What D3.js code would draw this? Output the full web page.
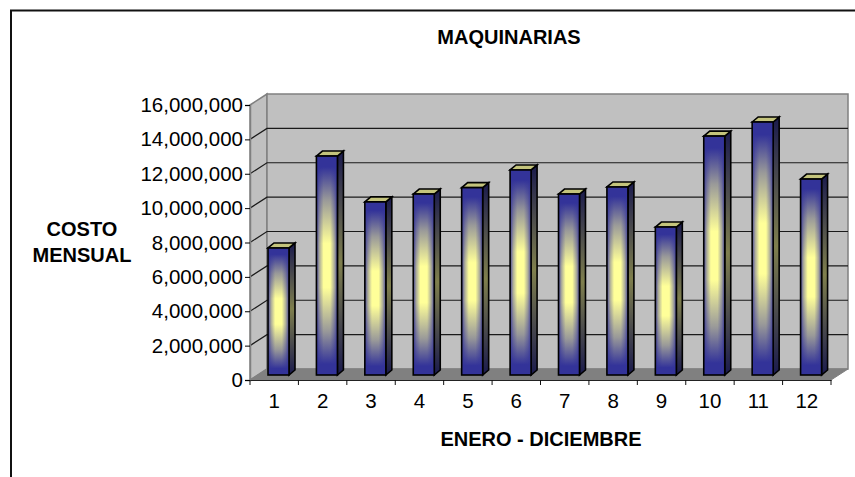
<!DOCTYPE html>
<html><head><meta charset="utf-8">
<script src="https://cdn.jsdelivr.net/npm/d3@7"></script>
<style>html,body{margin:0;padding:0;background:#fff}svg{display:block;font-family:"Liberation Sans",Arial,sans-serif}</style>
</head><body><svg id="c" width="855" height="477"></svg>
<script>
const months=[1,2,3,4,5,6,7,8,9,10,11,12];
const costs=[7390000,12740000,10070000,10530000,10900000,11930000,10530000,10940000,8610000,13900000,14720000,11400000];
const yTicks=[0,2000000,4000000,6000000,8000000,10000000,12000000,14000000,16000000];
const titleText="MAQUINARIAS", xTitle="ENERO - DICIEMBRE", yTitle=["COSTO","MENSUAL"];

const svg=d3.select("#c");
const L=250,R=831,T=105,B=380,DX=17,DY=11;
const x=d3.scaleBand().domain(months).range([L,R]);
const y=d3.scaleLinear().domain([0,16000000]).range([B,T]);
const defs=svg.append("defs");
const grad=(id,x2,y2,st)=>{const g=defs.append("linearGradient").attr("id",id).attr("x1",0).attr("y1",0).attr("x2",x2).attr("y2",y2);
  st.forEach(s=>g.append("stop").attr("offset",s[0]).attr("stop-color",s[1]).attr("stop-opacity",s[2]==null?1:s[2]));};
const BLUE="#333399",YEL="#ffff99";
grad("v",0,1,[[0,BLUE],[.05,BLUE],[.2,"#999999"],[.4,YEL],[.6,YEL],[.8,"#999999"],[.95,BLUE],[1,BLUE]]);
grad("edge",1,0,[[0,BLUE,.9],[.15,BLUE,.4],[.34,BLUE,0],[.66,BLUE,0],[.85,BLUE,.4],[1,BLUE,.9]]);
grad("side",0,1,[[0,"#1a1a4d"],[.5,"#7f7f4d"],[1,"#1a1a4d"]]);

// frame
svg.append("path").attr("d","M11,477V10.5H855").attr("fill","none").attr("stroke","#111").attr("stroke-width",2);

// walls
const wall="#808080";
svg.append("path").attr("d",`M${L},${T}L${L+DX},${T-DY}V${B-DY}L${L},${B}Z`).attr("fill","#c0c0c0").attr("stroke",wall).attr("stroke-width",1.5);
svg.append("path").attr("d",`M${L+DX},${T-DY}H${R+DX}V${B-DY}H${L+DX}Z`).attr("fill","#c0c0c0").attr("stroke",wall).attr("stroke-width",1.5);
svg.append("path").attr("d",`M${L},${B}L${L+DX},${B-DY}H${R+DX}L${R},${B}Z`).attr("fill","#808080").attr("stroke",wall);

// gridlines
svg.append("g").selectAll("path").data(yTicks.filter(d=>d>0&&d<16000000)).join("path")
  .attr("d",d=>`M${L},${y(d)}L${L+DX},${y(d)-DY}H${R+DX}`).attr("fill","none").attr("stroke","#1a1a1a").attr("stroke-width",1.2);

// axes
const fs="20.5px";
const ay=svg.append("g").attr("transform",`translate(${L},0)`).call(d3.axisLeft(y).tickValues(yTicks).tickFormat(d3.format(",")).tickSize(5).tickPadding(2));
ay.select(".domain").attr("stroke",wall).attr("stroke-width",1.5);
ay.selectAll("text").attr("font-size",fs).attr("font-family",null).attr("fill","#000");
const ax=svg.append("g").attr("transform",`translate(0,${B})`).call(d3.axisBottom(x).tickSizeOuter(0).tickSize(0).tickPadding(13));
ax.select(".domain").attr("stroke","#222").attr("stroke-width",1.2);
ax.selectAll("text").attr("font-size",fs).attr("font-family",null).attr("fill","#000");
ax.append("g").selectAll("line").data(d3.range(13)).join("line")
  .attr("x1",i=>L+i*x.step()).attr("x2",i=>L+i*x.step()).attr("y1",0).attr("y2",5).attr("stroke","#111");

// bars
const bw=21,bd=6,bh=5,base=B-5,off=18,sw=1.6;
const yb=v=>y(v)-5;
const bars=svg.append("g").selectAll("g").data(months.map((m,i)=>({m,v:costs[i]}))).join("g")
  .attr("transform",d=>`translate(${x(d.m)+off},0)`);
bars.append("path").attr("d",d=>`M${bw},${yb(d.v)}L${bw+bd},${yb(d.v)-bh}V${base-bh}L${bw},${base}Z`).attr("fill","url(#side)").attr("stroke","#000").attr("stroke-width",sw);
bars.append("path").attr("d",d=>`M0,${yb(d.v)}L${bd},${yb(d.v)-bh}H${bw+bd}L${bw},${yb(d.v)}Z`).attr("fill","#c4c47c").attr("stroke","#000").attr("stroke-width",sw);
bars.append("rect").attr("y",d=>yb(d.v)).attr("width",bw).attr("height",d=>base-yb(d.v)).attr("fill","url(#v)");
bars.append("rect").attr("y",d=>yb(d.v)).attr("width",bw).attr("height",d=>base-yb(d.v)).attr("fill","url(#edge)").attr("stroke","#000").attr("stroke-width",sw);

// titles
const tt=(t,xp,yp)=>svg.append("text").attr("x",xp).attr("y",yp).attr("text-anchor","middle").attr("font-size","20px").attr("font-weight","bold").attr("fill","#000").text(t);
tt(titleText,509,44);
tt(xTitle,541,446);
tt(yTitle[0],82,236);
tt(yTitle[1],82,262);
</script></body></html>
